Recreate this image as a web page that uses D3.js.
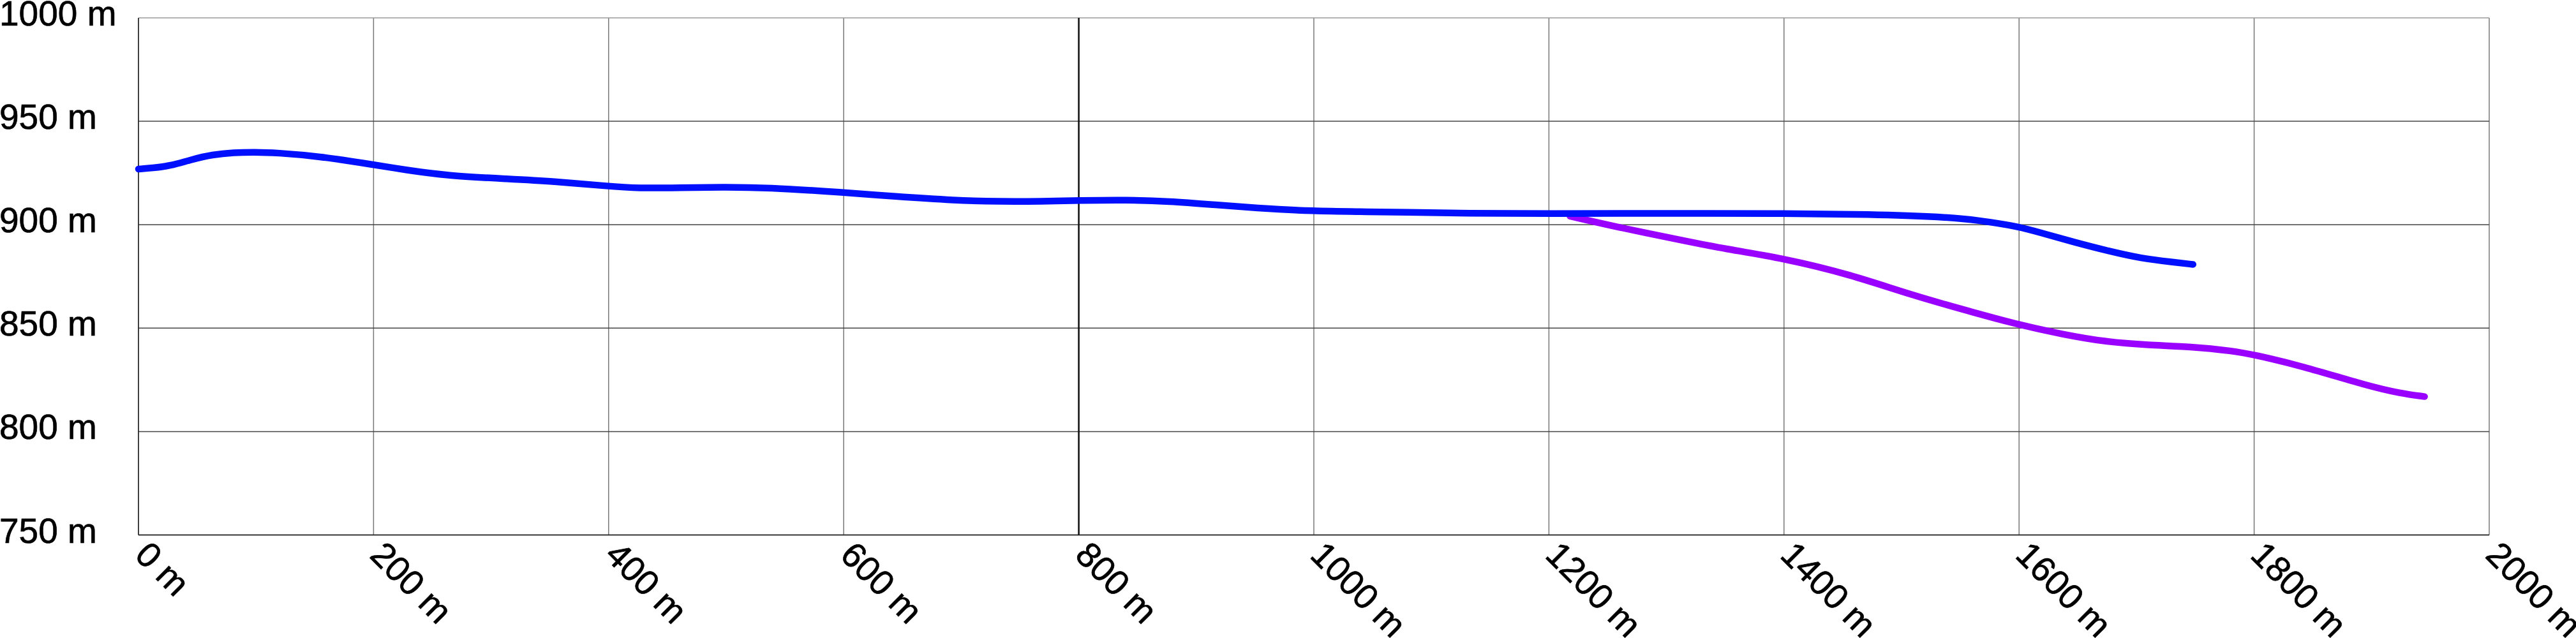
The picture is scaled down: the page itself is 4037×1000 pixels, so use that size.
<!DOCTYPE html>
<html>
<head>
<meta charset="utf-8">
<script src="https://cdn.jsdelivr.net/npm/d3@7"></script>
<style>
  html, body { margin: 0; padding: 0; background: #fff; }
  svg { display: block; }
  text { font-family: "Liberation Sans", Arial, sans-serif; fill: #000; stroke: #000; stroke-width: 0.7px; }
</style>
</head>
<body>
<svg id="chart" width="4037" height="1000"></svg>
<script>
// Distance (m) / elevation (m) profile data
const blueDist = [0, 12, 27, 45, 63, 81, 99, 117, 154, 200, 226, 262, 316, 352, 400, 425, 461, 497, 534, 600, 642, 696, 732, 769, 800, 841, 877, 914, 950, 1000, 1040, 1077, 1131, 1200, 1287, 1400, 1473, 1536, 1565, 1600, 1619, 1648, 1676, 1704, 1731, 1748];
const blueElev = [926.9, 927.4, 928.4, 931.5, 933.9, 934.9, 935.1, 934.8, 933.1, 929, 926.6, 923.7, 922.1, 921, 918.6, 917.6, 917.9, 918.2, 918, 915.6, 913.7, 911.7, 911.2, 911.3, 911.7, 912, 911.3, 909.7, 908.1, 906.5, 906.3, 906, 905.5, 905.3, 905.5, 905.5, 905, 903.8, 902.2, 899.1, 896, 891.4, 887.3, 883.7, 881.9, 880.8];

const purpleDist = [1218, 1256, 1318, 1348, 1400, 1456, 1510, 1565, 1600, 1637, 1674, 1710, 1746, 1782, 1800, 1840, 1897, 1925, 1945];
const purpleElev = [904.1, 899.1, 891.9, 888.5, 883.7, 876, 865.7, 857, 851.6, 847, 843.3, 841.8, 841.1, 839, 837.1, 831.8, 822, 818.4, 816.9];

const xTicks = [0, 200, 400, 600, 800, 1000, 1200, 1400, 1600, 1800, 2000];
const yTicks = [750, 800, 850, 900, 950, 1000];

const seriesColors = ["#0010ff", "#9900ff"];

(function () {
const pLeft = 217, pRight = 3901, pTop = 28, pBottom = 838.5;

const svg = d3.select("#chart");
const x = d3.scaleLinear().domain([0, 2000]).range([pLeft, pRight]);
const y = d3.scaleLinear().domain([750, 1000]).range([pBottom, pTop]);

// grid
const grid = svg.append("g");
grid.selectAll("line.v").data(xTicks).join("line")
  .attr("class", "v")
  .attr("x1", d => x(d)).attr("x2", d => x(d))
  .attr("y1", pTop).attr("y2", pBottom)
  .attr("stroke", "#777").attr("stroke-width", 1.5);
grid.selectAll("line.h").data(yTicks).join("line")
  .attr("class", "h")
  .attr("x1", pLeft).attr("x2", pRight)
  .attr("y1", d => y(d)).attr("y2", d => y(d))
  .attr("stroke", d => d === 1000 ? "#999" : "#444").attr("stroke-width", 1.5);

// axes lines
svg.append("line").attr("x1", pLeft).attr("x2", pLeft).attr("y1", pTop).attr("y2", pBottom)
  .attr("stroke", "#222").attr("stroke-width", 1.5);
svg.append("line").attr("x1", pLeft).attr("x2", pRight).attr("y1", pBottom).attr("y2", pBottom)
  .attr("stroke", "#222").attr("stroke-width", 1.5);
svg.append("line").attr("x1", x(800)).attr("x2", x(800)).attr("y1", pTop).attr("y2", pBottom)
  .attr("stroke", "#111").attr("stroke-width", 2.5);

// y labels (left-aligned at the page edge)
svg.append("g").selectAll("text").data(yTicks).join("text")
  .attr("x", -1)
  .attr("y", d => y(d) + 12)
  .attr("text-anchor", "start")
  .attr("font-size", 55)
  .text(d => d + " m");

// x labels rotated
svg.append("g").selectAll("text").data(xTicks).join("text")
  .attr("transform", d => `translate(${x(d) - 8},${pBottom + 34}) rotate(45)`)
  .attr("text-anchor", "start")
  .attr("font-size", 55)
  .text(d => d + " m");

// lines
const line = d3.line()
  .x(d => x(d[0])).y(d => y(d[1]))
  .curve(d3.curveBasis);

const blue = blueDist.map((d, i) => [d, blueElev[i]]);
const purple = purpleDist.map((d, i) => [d, purpleElev[i]]);

svg.append("path").datum(purple).attr("d", line)
  .attr("fill", "none").attr("stroke", seriesColors[1])
  .attr("stroke-width", 10.5).attr("stroke-linecap", "round").attr("stroke-linejoin", "round");
svg.append("path").datum(blue).attr("d", line)
  .attr("fill", "none").attr("stroke", seriesColors[0])
  .attr("stroke-width", 10.5).attr("stroke-linecap", "round").attr("stroke-linejoin", "round");
})();
</script>
</body>
</html>
